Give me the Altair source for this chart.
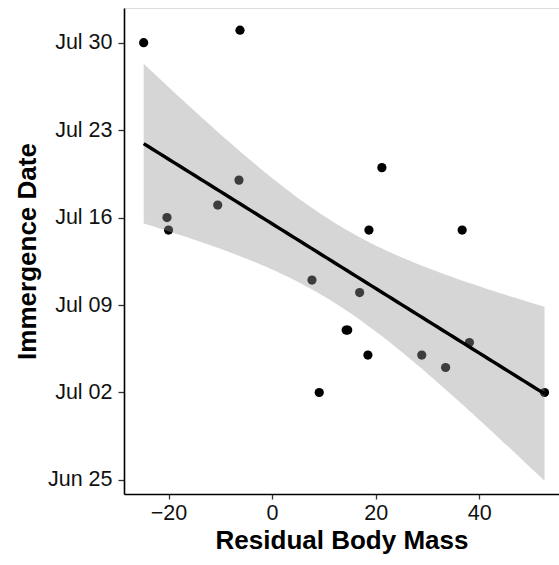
import altair as alt
import numpy as np
import pandas as pd

# Data
residual_mass = [-24.8, -6.2, -20.3, -20.0, -10.5, -6.4, 21.2, 18.7, 36.7, 7.7,
                 16.9, 14.3, 14.6, 18.5, 9.1, 28.9, 33.5, 38.1, 52.6]
emergence_date = ["2019-07-30", "2019-07-31", "2019-07-16", "2019-07-15", "2019-07-17",
                  "2019-07-19", "2019-07-20", "2019-07-15", "2019-07-15", "2019-07-11",
                  "2019-07-10", "2019-07-07", "2019-07-07", "2019-07-05", "2019-07-02",
                  "2019-07-05", "2019-07-04", "2019-07-06", "2019-07-02"]
tick_dates = ["2019-06-25", "2019-07-02", "2019-07-09", "2019-07-16", "2019-07-23", "2019-07-30"]
x_ticks = [-20, 0, 20, 40]
x_domain = [-28.6, 55.4]
y_domain = ["2019-06-23T21:00:00", "2019-08-01T18:40:00"]

DAY = 86400000.0


def to_ms(s):
    return pd.Timestamp(s, tz="UTC").value / 1e6


x = np.array(residual_mass, dtype=float)
y_ms = np.array([to_ms(d) for d in emergence_date])
y = y_ms / DAY  # days

pts = pd.DataFrame({"mass": x, "date": y_ms})

# Linear fit with 95% confidence band (as geom_smooth(method="lm"))
n = len(x)
xbar, ybar = x.mean(), y.mean()
sxx = ((x - xbar) ** 2).sum()
b = ((x - xbar) * (y - ybar)).sum() / sxx
a = ybar - b * xbar
resid = y - (a + b * x)
s = np.sqrt((resid ** 2).sum() / (n - 2))
t_crit = 2.1098  # t(0.975, df=17)
xs = np.linspace(x.min(), x.max(), 80)
fit = a + b * xs
se = s * np.sqrt(1.0 / n + (xs - xbar) ** 2 / sxx)
band = pd.DataFrame({
    "mass": xs,
    "fit": fit * DAY,
    "lo": (fit - t_crit * se) * DAY,
    "hi": (fit + t_crit * se) * DAY,
})

font = "Liberation Sans"

xscale = alt.Scale(domain=x_domain, nice=False, zero=False)
yscale = alt.Scale(type="utc", domain=[to_ms(y_domain[0]), to_ms(y_domain[1])], nice=False)

xaxis = alt.Axis(values=x_ticks, title="Residual Body Mass", grid=False,
                 labelFont=font, labelFontSize=21.5, labelColor="#111111", labelPadding=3,
                 titleFont=font, titleFontSize=26, titleFontWeight="bold", titleColor="black",
                 titlePadding=4, tickSize=5, tickColor="#333333", tickWidth=1.3,
                 domainColor="black", domainWidth=1.6)
yaxis = alt.Axis(values=[to_ms(d) for d in tick_dates], format="%b %d", title="Immergence Date",
                 grid=False, labelFont=font, labelFontSize=21.5, labelColor="#111111", labelPadding=6,
                 titleFont=font, titleFontSize=26, titleFontWeight="bold", titleColor="black",
                 titlePadding=7, tickSize=6, tickColor="#333333", tickWidth=1.3,
                 domainColor="black", domainWidth=1.6)

points = alt.Chart(pts).mark_circle(size=85, color="black", opacity=1).encode(
    x=alt.X("mass:Q", scale=xscale, axis=xaxis),
    y=alt.Y("date:T", scale=yscale, axis=yaxis),
)

ribbon = alt.Chart(band).mark_area(color="#999999", opacity=0.4).encode(
    x=alt.X("mass:Q", scale=xscale),
    y=alt.Y("lo:T", scale=yscale),
    y2="hi:T",
)

line = alt.Chart(band).mark_line(color="black", strokeWidth=3.4).encode(
    x=alt.X("mass:Q", scale=xscale),
    y=alt.Y("fit:T", scale=yscale),
)

chart = alt.layer(points, ribbon, line).properties(
    width=435, height=486,
    autosize=alt.AutoSizeParams(type="none"),
    padding={"left": 124, "top": 8, "right": 0, "bottom": 71},
).configure_view(stroke=None).configure(background="white")

chart.save("out.html", embed_options={"renderer": "svg", "actions": False})
